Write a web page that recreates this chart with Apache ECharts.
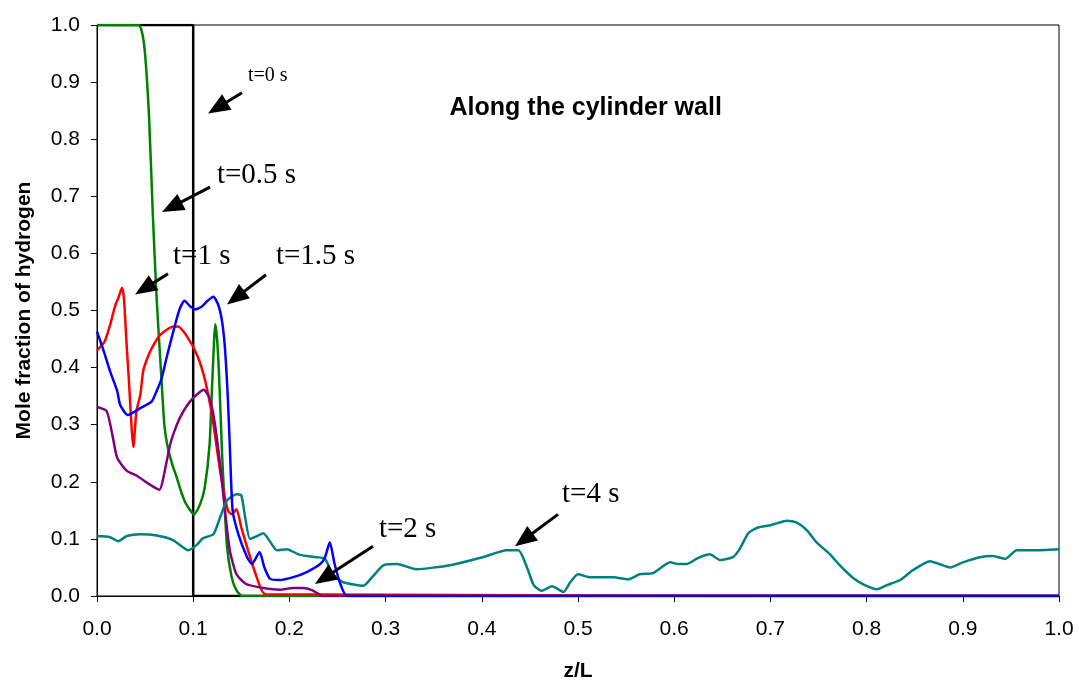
<!DOCTYPE html>
<html>
<head>
<meta charset="utf-8">
<script src="https://cdn.jsdelivr.net/npm/echarts@6/dist/echarts.min.js"></script>
<style>html,body{margin:0;padding:0;background:#fff}#c{width:1079px;height:687px}</style>
</head>
<body>
<div id="c"></div>
<script>
// ---- data (z/L, mole fraction) ----
const t0X = [0, 0.1, 0.1, 1.0];
const t0Y = [1.0, 1.0, 0.0, 0.0];

const t05X = [0, 0.043, 0.049, 0.054, 0.058, 0.062, 0.067, 0.070, 0.073, 0.078, 0.083, 0.088, 0.093, 0.101, 0.107, 0.112, 0.117, 0.120, 0.123, 0.125, 0.127, 0.130, 0.135, 0.140, 0.145, 0.151, 1.0];
const t05Y = [1.0, 1.0, 0.965, 0.843, 0.669, 0.521, 0.38, 0.30, 0.265, 0.232, 0.207, 0.18, 0.160, 0.143, 0.160, 0.19, 0.265, 0.382, 0.476, 0.446, 0.382, 0.25, 0.09, 0.033, 0.01, 0.0, 0.0];

const t1X = [0, 0.008, 0.0135, 0.019, 0.022, 0.026, 0.028, 0.031, 0.033, 0.0378, 0.041, 0.045, 0.048, 0.052, 0.057, 0.065, 0.076, 0.084, 0.093, 0.104, 0.112, 0.12, 0.128, 0.136, 0.140, 0.145, 0.150, 0.157, 0.166, 0.175, 1.0];
const t1Y = [0.43, 0.446, 0.474, 0.509, 0.521, 0.540, 0.521, 0.434, 0.382, 0.261, 0.324, 0.352, 0.394, 0.415, 0.434, 0.456, 0.470, 0.472, 0.456, 0.422, 0.38, 0.312, 0.219, 0.15, 0.143, 0.152, 0.12, 0.08, 0.033, 0.003, 0.0];

const t15X = [0, 0.006, 0.0135, 0.021, 0.024, 0.032, 0.045, 0.057, 0.062, 0.067, 0.073, 0.081, 0.086, 0.091, 0.097, 0.102, 0.109, 0.115, 0.121, 0.126, 0.13, 0.133, 0.136, 0.138, 0.141, 0.147, 0.156, 0.161, 0.169, 0.174, 0.18, 0.19, 0.204, 0.218, 0.232, 0.237, 0.242, 0.247, 0.253, 0.26, 1.0];
const t15Y = [0.463, 0.434, 0.394, 0.359, 0.335, 0.317, 0.329, 0.341, 0.359, 0.38, 0.422, 0.474, 0.503, 0.517, 0.507, 0.502, 0.507, 0.517, 0.524, 0.510, 0.481, 0.434, 0.347, 0.265, 0.15, 0.108, 0.068, 0.056, 0.077, 0.05, 0.03, 0.028, 0.033, 0.042, 0.056, 0.068, 0.094, 0.056, 0.021, 0.0, 0.0];

const t2X = [0, 0.01, 0.016, 0.021, 0.031, 0.041, 0.055, 0.065, 0.069, 0.076, 0.083, 0.09, 0.1, 0.111, 0.117, 0.122, 0.128, 0.133, 0.138, 0.145, 0.155, 0.173, 0.19, 0.204, 0.214, 0.224, 0.235, 1.0];
const t2Y = [0.331, 0.324, 0.282, 0.242, 0.219, 0.211, 0.195, 0.186, 0.207, 0.265, 0.300, 0.324, 0.347, 0.361, 0.347, 0.307, 0.23, 0.15, 0.08, 0.038, 0.021, 0.014, 0.011, 0.014, 0.014, 0.01, 0.0, 0.0];

const t4X = [0, 0.0135, 0.022, 0.031, 0.045, 0.062, 0.079, 0.095, 0.104, 0.11, 0.121, 0.128, 0.135, 0.145, 0.15, 0.154, 0.159, 0.165, 0.173, 0.18, 0.187, 0.197, 0.211, 0.228, 0.237, 0.245, 0.256, 0.277, 0.286, 0.298, 0.312, 0.332, 0.367, 0.401, 0.426, 0.438, 0.447, 0.454, 0.462, 0.473, 0.485, 0.492, 0.5, 0.512, 0.537, 0.552, 0.564, 0.578, 0.596, 0.604, 0.613, 0.624, 0.637, 0.648, 0.661, 0.668, 0.677, 0.687, 0.7, 0.717, 0.727, 0.738, 0.748, 0.762, 0.772, 0.785, 0.796, 0.811, 0.821, 0.835, 0.848, 0.866, 0.874, 0.887, 0.9, 0.918, 0.931, 0.944, 0.956, 0.973, 1.0];
const t4Y = [0.105, 0.103, 0.096, 0.105, 0.108, 0.106, 0.098, 0.08, 0.09, 0.101, 0.108, 0.138, 0.167, 0.178, 0.176, 0.138, 0.1, 0.104, 0.11, 0.095, 0.08, 0.082, 0.072, 0.068, 0.065, 0.038, 0.024, 0.018, 0.033, 0.054, 0.056, 0.047, 0.054, 0.068, 0.08, 0.08, 0.05, 0.019, 0.009, 0.017, 0.007, 0.024, 0.038, 0.033, 0.033, 0.029, 0.038, 0.04, 0.059, 0.056, 0.056, 0.066, 0.073, 0.063, 0.068, 0.082, 0.11, 0.12, 0.124, 0.132, 0.129, 0.115, 0.094, 0.073, 0.054, 0.033, 0.021, 0.012, 0.019, 0.028, 0.045, 0.061, 0.057, 0.05, 0.059, 0.068, 0.07, 0.065, 0.08, 0.08, 0.082];

// ---- annotations (data coordinates) ----
const annLabels = ['t=0 s', 't=0.5 s', 't=1 s', 't=1.5 s', 't=2 s', 't=4 s'];
const annTextX = [0.157, 0.1247, 0.079, 0.186, 0.2931, 0.4834];
const annTextY = [0.9007, 0.723, 0.580, 0.580, 0.1028, 0.1638];   // baselines
const annFontSize = [20, 29, 29, 29, 29, 29];
const arrowFromX = [0.1507, 0.1175, 0.0738, 0.1757, 0.2869, 0.4792];
const arrowFromY = [0.8815, 0.716, 0.5645, 0.5627, 0.0871, 0.1429];
const arrowToX = [0.1154, 0.0676, 0.0395, 0.1351, 0.2266, 0.4345];
const arrowToY = [0.845, 0.6725, 0.528, 0.5105, 0.0209, 0.0871];
const titleText = 'Along the cylinder wall';
const titleX = 0.508, titleY = 0.8415;  // baseline

const zip = (xs, ys) => xs.map((v, i) => [v, ys[i]]);

const chart = echarts.init(document.getElementById('c'), null, {renderer: 'canvas'});

function mkSeries(name, xs, ys, color, smooth) {
  return {
    name, type: 'line', data: zip(xs, ys), showSymbol: false, symbol: 'none',
    smooth: smooth, lineStyle: {color, width: 2.5}, animation: false, z: 3
  };
}

const series = [
  mkSeries('t=0 s', t0X, t0Y, '#000000', false),
  mkSeries('t=0.5 s', t05X, t05Y, '#008000', 0.2),
  mkSeries('t=1 s', t1X, t1Y, '#FF0000', 0.2),
  mkSeries('t=2 s', t2X, t2Y, '#800080', 0.2),
  mkSeries('t=4 s', t4X, t4Y, '#008080', 0.2),
  mkSeries('t=1.5 s', t15X, t15Y, '#0000FF', 0.2)
];

const axisCommon = {
  type: 'value', min: 0, max: 1, interval: 0.1,
  axisLine: {show: true, lineStyle: {color: '#000', width: 1}},
  axisTick: {show: true, inside: false, length: 6, lineStyle: {color: '#000'}},
  splitLine: {show: false},
  axisLabel: {color: '#000', fontFamily: 'Liberation Sans, Arial, sans-serif', fontSize: 21,
    formatter: v => v.toFixed(1)},
  nameTextStyle: {color: '#000', fontFamily: 'Liberation Sans, Arial, sans-serif', fontSize: 21, fontWeight: 'bold'},
  nameLocation: 'middle'
};

chart.setOption({
  animation: false,
  backgroundColor: '#fff',
  grid: {left: 97, right: 20, top: 25, bottom: 88, show: true, borderColor: '#000', borderWidth: 1, backgroundColor: 'transparent'},
  xAxis: Object.assign({}, axisCommon, {name: 'z/L', nameGap: 65,
    axisLabel: Object.assign({}, axisCommon.axisLabel, {margin: 23})}),
  yAxis: Object.assign({}, axisCommon, {name: 'Mole fraction of hydrogen', nameGap: 62,
    axisLabel: Object.assign({}, axisCommon.axisLabel, {margin: 17})}),
  series
});

// arrows: tip at the "to" point; shorten so the triangle's tip (not centre) lands there
const headLen = 22, headW = 18;
const arrowData = arrowFromX.map((v, i) => {
  const a = chart.convertToPixel({gridIndex: 0}, [v, arrowFromY[i]]);
  const b = chart.convertToPixel({gridIndex: 0}, [arrowToX[i], arrowToY[i]]);
  const dx = b[0] - a[0], dy = b[1] - a[1], L = Math.hypot(dx, dy);
  const c = [b[0] - dx / L * headLen / 2, b[1] - dy / L * headLen / 2];
  const cd = chart.convertFromPixel({gridIndex: 0}, c);
  return [{coord: [v, arrowFromY[i]]}, {coord: cd}];
});

// text annotations placed through the axes' scales
const graphics = annLabels.map((txt, i) => {
  const p = chart.convertToPixel({gridIndex: 0}, [annTextX[i], annTextY[i]]);
  return {
    type: 'text', x: p[0], y: p[1] + annFontSize[i] * 0.22, z: 10,
    style: {text: txt, fill: '#000', font: annFontSize[i] + 'px "Liberation Serif", "Times New Roman", serif',
      textAlign: 'left', textVerticalAlign: 'bottom'}
  };
});
const tp = chart.convertToPixel({gridIndex: 0}, [titleX, titleY]);
graphics.push({
  type: 'text', x: tp[0], y: tp[1] + 5, z: 10,
  style: {text: titleText, fill: '#000', font: 'bold 25px "Liberation Sans", Arial, sans-serif',
    textAlign: 'center', textVerticalAlign: 'bottom'}
});

chart.setOption({
  graphic: graphics,
  series: [{
    markLine: {
      silent: true, animation: false,
      symbol: ['none', 'triangle'], symbolSize: [headW, headLen],
      lineStyle: {color: '#000', width: 3, type: 'solid'},
      itemStyle: {color: '#000'},
      label: {show: false},
      data: arrowData
    }
  }]
});
</script>
</body>
</html>
